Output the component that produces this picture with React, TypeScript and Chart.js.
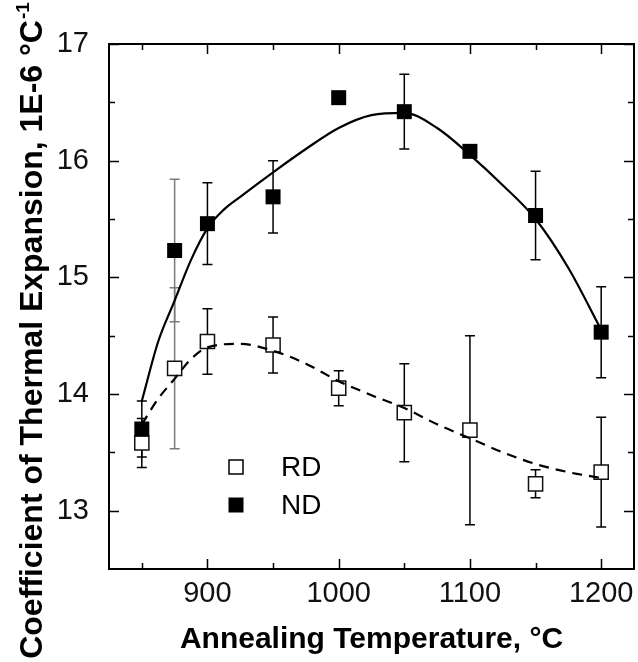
import React, { useEffect, useRef } from 'react';
import { Chart, registerables } from 'chart.js';

Chart.register(...registerables);

// ---- data ----
const temps = [850, 875, 900, 950, 1000, 1050, 1100, 1150, 1200];
const rdValues = [13.58, 14.22, 14.45, 14.42, 14.05, 13.84, 13.69, 13.23, 13.33];
const rdErrors = [0.21, 0.69, 0.28, 0.24, 0.15, 0.42, 0.81, 0.12, 0.47];
const ndValues = [13.7, 15.23, 15.46, 15.69, 16.54, 16.42, 16.08, 15.53, 14.53];
const ndErrors = [0.24, 0.61, 0.35, 0.31, 0, 0.32, 0, 0.38, 0.39];
const greyErrorIdx = [1];

const ndFitTemps = [850, 862.5, 875, 887.5, 900, 912.5, 925, 950, 975, 1000, 1025, 1050, 1075, 1100, 1125, 1150, 1175, 1200];
const ndFitValues = [13.94, 14.45, 14.8, 15.15, 15.42, 15.58, 15.69, 15.9, 16.1, 16.28, 16.39, 16.41, 16.28, 16.05, 15.79, 15.5, 15.08, 14.55];
const rdFitTemps = [850, 862.5, 875, 887.5, 900, 925, 950, 975, 1000, 1025, 1050, 1075, 1100, 1125, 1150, 1175, 1200];
const rdFitValues = [13.74, 13.96, 14.13, 14.3, 14.4, 14.43, 14.37, 14.26, 14.11, 13.99, 13.88, 13.74, 13.62, 13.5, 13.4, 13.33, 13.28];

const xMajorTicks = [900, 1000, 1100, 1200];
const xMinorTicks = [850, 950, 1050, 1150];
const yMajorTicks = [13, 14, 15, 16, 17];
const yMinorTicks = [13.5, 14.5, 15.5, 16.5];
const xRange = [825, 1225];
const yRange = [12.5, 17];

const xTitle = 'Annealing Temperature, °C';
const yTitleMain = 'Coefficient of Thermal Expansion, 1E-6 °C';
const yTitleSup = '-1';
const seriesLabels = ['RD', 'ND'];

const FONT = '"Liberation Sans", Arial, Helvetica, sans-serif';

const decorPlugin = {
  id: 'decor',
  beforeDatasetsDraw(chart: any) {
    const { ctx, scales } = chart;
    const x = scales.x;
    const y = scales.y;
    const drawErr = (vals: number[], errs: number[]) => {
      vals.forEach((v, i) => {
        const e = errs[i];
        if (!e) return;
        const px = x.getPixelForValue(temps[i]);
        const top = y.getPixelForValue(v + e);
        const bot = y.getPixelForValue(v - e);
        ctx.save();
        ctx.strokeStyle = greyErrorIdx.includes(i) ? '#7a7a7a' : '#000';
        ctx.lineWidth = 1.5;
        ctx.beginPath();
        ctx.moveTo(px, top);
        ctx.lineTo(px, bot);
        ctx.moveTo(px - 5, top);
        ctx.lineTo(px + 5, top);
        ctx.moveTo(px - 5, bot);
        ctx.lineTo(px + 5, bot);
        ctx.stroke();
        ctx.restore();
      });
    };
    drawErr(rdValues, rdErrors);
    drawErr(ndValues, ndErrors);
  },
  afterDraw(chart: any) {
    const { ctx, chartArea, scales } = chart;
    const x = scales.x;
    const y = scales.y;
    const { left, right, top, bottom } = chartArea;
    ctx.save();
    // frame
    ctx.strokeStyle = '#000';
    ctx.lineWidth = 2;
    ctx.strokeRect(left, top, right - left, bottom - top);
    // ticks
    ctx.lineWidth = 1.5;
    ctx.beginPath();
    const xt = (vals: number[], len: number) => {
      vals.forEach((v) => {
        const px = Math.round(x.getPixelForValue(v)) + 0.5;
        ctx.moveTo(px, bottom);
        ctx.lineTo(px, bottom - len);
        ctx.moveTo(px, top);
        ctx.lineTo(px, top + len);
      });
    };
    const yt = (vals: number[], len: number) => {
      vals.forEach((v) => {
        const py = Math.round(y.getPixelForValue(v)) + 0.5;
        ctx.moveTo(left, py);
        ctx.lineTo(left + len, py);
        ctx.moveTo(right, py);
        ctx.lineTo(right - len, py);
      });
    };
    xt(xMajorTicks, 10);
    xt(xMinorTicks, 6);
    yt(yMajorTicks, 10);
    yt(yMinorTicks, 6);
    ctx.stroke();

    // legend
    const lx = left + 127;
    const ly1 = top + 423;
    const ly2 = top + 461;
    const s = 14;
    ctx.lineWidth = 1.5;
    ctx.fillStyle = '#fff';
    ctx.fillRect(lx - s / 2, ly1 - s / 2, s, s);
    ctx.strokeRect(lx - s / 2, ly1 - s / 2, s, s);
    ctx.fillStyle = '#000';
    ctx.fillRect(lx - s / 2 - 0.5, ly2 - s / 2 - 0.5, s + 1, s + 1);
    ctx.font = `28px ${FONT}`;
    ctx.textAlign = 'left';
    ctx.textBaseline = 'middle';
    ctx.fillText(seriesLabels[0], lx + 45, ly1 + 1);
    ctx.fillText(seriesLabels[1], lx + 45, ly2 + 1);

    // y title (rotated)
    ctx.translate(42, 331);
    ctx.rotate(-Math.PI / 2);
    ctx.font = `bold 32px ${FONT}`;
    const wMain = ctx.measureText(yTitleMain).width;
    ctx.font = `bold 19px ${FONT}`;
    const wSup = ctx.measureText(yTitleSup).width;
    const total = wMain + wSup;
    ctx.textAlign = 'left';
    ctx.textBaseline = 'alphabetic';
    ctx.font = `bold 32px ${FONT}`;
    ctx.fillText(yTitleMain, -total / 2, 0);
    ctx.font = `bold 19px ${FONT}`;
    ctx.fillText(yTitleSup, -total / 2 + wMain + 1, -13);
    ctx.restore();
  },
};

export default function App() {
  const ref = useRef<HTMLCanvasElement | null>(null);
  useEffect(() => {
    document.body.style.margin = '0';
    const canvas = ref.current;
    if (!canvas) return;
    const chart = new Chart(canvas, {
      type: 'scatter',
      data: {
        datasets: [
          {
            label: 'ND fit',
            data: ndFitTemps.map((t, i) => ({ x: t, y: ndFitValues[i] })),
            showLine: true,
            borderColor: '#000',
            borderWidth: 2.2,
            pointRadius: 0,
            cubicInterpolationMode: 'monotone',
          },
          {
            label: 'RD fit',
            data: rdFitTemps.map((t, i) => ({ x: t, y: rdFitValues[i] })),
            showLine: true,
            borderColor: '#000',
            borderWidth: 2.2,
            borderDash: [10, 7],
            pointRadius: 0,
            cubicInterpolationMode: 'monotone',
          },
          {
            label: seriesLabels[1],
            data: temps.map((t, i) => ({ x: t, y: ndValues[i] })),
            pointStyle: 'rect',
            pointRadius: 10.6,
            backgroundColor: '#000',
            borderColor: '#000',
            borderWidth: 0,
            showLine: false,
          },
          {
            label: seriesLabels[0],
            data: temps.map((t, i) => ({ x: t, y: rdValues[i] })),
            pointStyle: 'rect',
            pointRadius: 10,
            backgroundColor: '#fff',
            borderColor: '#111',
            borderWidth: 1.5,
            showLine: false,
          },
        ],
      } as any,
      options: {
        animation: false,
        responsive: false,
        devicePixelRatio: 1,
        layout: { autoPadding: false, padding: { top: 44, right: 4, left: 0, bottom: 0 } },
        plugins: { legend: { display: false }, tooltip: { enabled: false } },
        scales: {
          x: {
            type: 'linear',
            min: xRange[0],
            max: xRange[1],
            afterBuildTicks: (scale: any) => {
              scale.ticks = xMajorTicks.map((v) => ({ value: v }));
            },
            afterFit: (scale: any) => {
              scale.height = 93;
              scale.paddingLeft = 0;
              scale.paddingRight = 0;
            },
            grid: { display: false, drawTicks: false },
            border: { display: false },
            ticks: {
              color: '#111',
              font: { family: FONT, size: 29, lineHeight: 1.7 },
              padding: 0,
              maxRotation: 0,
              autoSkip: false,
              callback: (v: any) => String(v),
            },
            title: {
              display: true,
              text: xTitle,
              color: '#000',
              font: { family: FONT, size: 30, weight: 'bold' },
              padding: { top: 0, bottom: 4 },
            },
          },
          y: {
            type: 'linear',
            min: yRange[0],
            max: yRange[1],
            afterBuildTicks: (scale: any) => {
              scale.ticks = yMajorTicks.map((v) => ({ value: v }));
            },
            afterFit: (scale: any) => {
              scale.width = 109;
              scale.paddingTop = 0;
              scale.paddingBottom = 0;
            },
            grid: { display: false, drawTicks: false },
            border: { display: false },
            ticks: {
              color: '#111',
              font: { family: FONT, size: 29 },
              padding: 20,
              autoSkip: false,
              callback: (v: any) => String(v),
            },
          },
        },
      } as any,
      plugins: [decorPlugin],
    });
    return () => chart.destroy();
  }, []);
  return (
    <canvas ref={ref} width={638} height={662} style={{ display: 'block', width: 638, height: 662 }} />
  );
}
